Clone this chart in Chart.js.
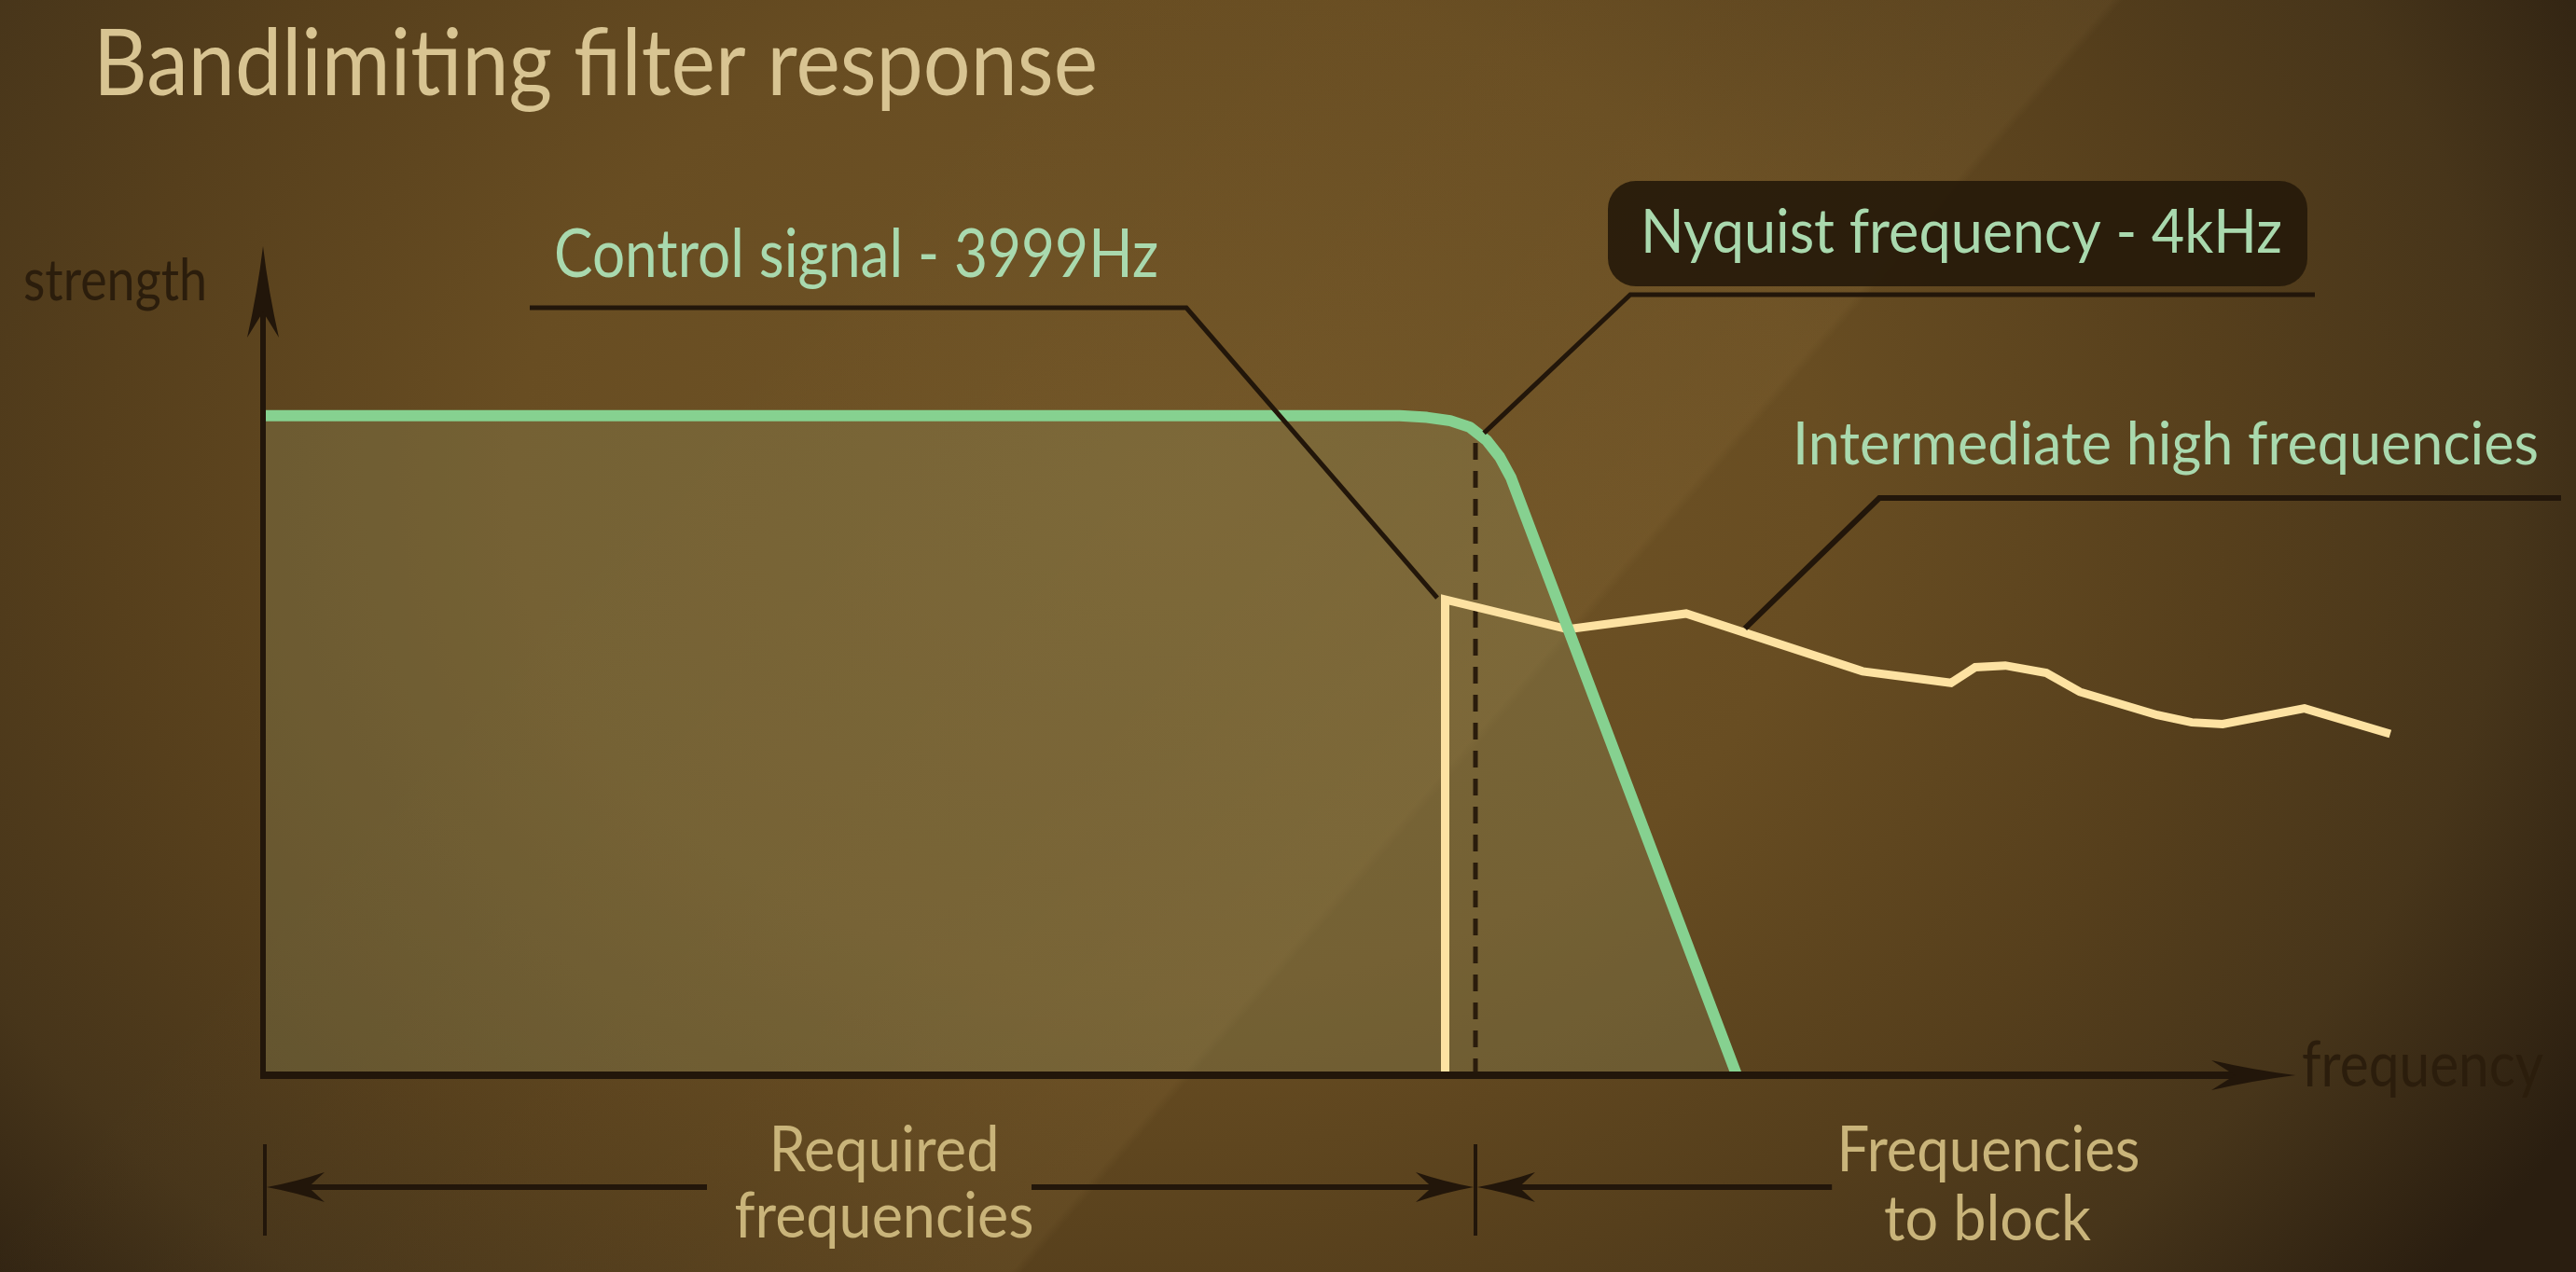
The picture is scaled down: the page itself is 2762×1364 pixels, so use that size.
<!DOCTYPE html>
<html>
<head>
<meta charset="utf-8">
<script src="https://cdn.jsdelivr.net/npm/chart.js@4/dist/chart.umd.min.js"></script>
<style>
  html, body { margin: 0; padding: 0; background: #4a3618; }
  #wrap { width: 2762px; height: 1364px; }
  canvas { display: block; }
</style>
</head>
<body>
<div id="wrap"><canvas id="c" width="2762" height="1364"></canvas></div>
<script>
// ---------------- data ----------------
// Band-limiting filter response (frequency in Hz, strength in arbitrary units 0..100)
const filterFreq     = [0, 3750, 3840, 3917, 3982, 4037, 4080, 4117, 4862];
const filterStrength = [80, 80, 79.8, 79.4, 78.6, 77.0, 75.0, 72.5, 0];

// Control signal (3999 Hz spike) followed by intermediate high frequencies
const signalFreq     = [3900, 3900, 4305, 4695, 5277, 5569, 5649, 5748, 5883, 5994, 6249, 6363, 6465, 6735, 7018];
const signalStrength = [0, 57.7, 54.1, 56.0, 49.0, 47.6, 49.5, 49.7, 48.8, 46.5, 43.7, 42.8, 42.6, 44.5, 41.4];

// Nyquist marker (dashed vertical)
const nyquistFreq     = [4000, 4000];
const nyquistStrength = [0, 77.8];

// Axis ranges
const xRange = [0, 7200];
const yRange = [0, 100];
const xAxisEndHz = 6705;   // where the frequency-axis arrow ends

// Text
const titleText = 'Bandlimiting filter response';
const yAxisLabel = 'strength';
const xAxisLabel = 'frequency';
const controlLabel = 'Control signal - 3999Hz';
const nyquistLabel = 'Nyquist frequency - 4kHz';
const intermediateLabel = 'Intermediate high frequencies';
const requiredLabel = ['Required', 'frequencies'];
const blockLabel = ['Frequencies', 'to block'];

// Leader-line anchors in data units
const controlAnchor = [3874, 57.9];
const nyquistAnchor = [4028, 77.9];
const intermediateAnchor = [4889, 54.2];
const blockEndHz = 5176;

// ---------------- helpers ----------------
const FONT = 'Lato, "Open Sans", sans-serif';
const DARK = '#22160a';
const GREEN_TXT = '#a9d9ae';
const BEIGE = '#d8c492';
const BEIGE2 = '#c9b47a';

function fitText(ctx, txt, x, y, size, width, color, align) {
  ctx.save();
  ctx.font = '400 ' + size + 'px ' + FONT;
  const w = ctx.measureText(txt).width;
  const sx = width / w;
  ctx.fillStyle = color;
  ctx.textBaseline = 'alphabetic';
  ctx.textAlign = 'left';
  ctx.translate(x, y);
  ctx.scale(sx, 1);
  ctx.fillText(txt, align === 'center' ? -w / 2 : 0, 0);
  ctx.restore();
}

function arrowHead(ctx, tx, ty, dx, dy, L, W, color) {
  const px = -dy, py = dx;
  const bx = tx - dx * L, by = ty - dy * L;
  const nx = tx - dx * L * 0.72, ny = ty - dy * L * 0.72;
  ctx.save();
  ctx.fillStyle = color;
  ctx.beginPath();
  ctx.moveTo(tx, ty);
  ctx.quadraticCurveTo(tx - dx * L * 0.5 + px * W * 0.35, ty - dy * L * 0.5 + py * W * 0.35, bx + px * W, by + py * W);
  ctx.lineTo(nx, ny);
  ctx.lineTo(bx - px * W, by - py * W);
  ctx.quadraticCurveTo(tx - dx * L * 0.5 - px * W * 0.35, ty - dy * L * 0.5 - py * W * 0.35, tx, ty);
  ctx.closePath();
  ctx.fill();
  ctx.restore();
}

function line(ctx, pts, width, color) {
  ctx.save();
  ctx.strokeStyle = color;
  ctx.lineWidth = width;
  ctx.lineJoin = 'miter';
  ctx.lineCap = 'butt';
  ctx.beginPath();
  ctx.moveTo(pts[0][0], pts[0][1]);
  for (let i = 1; i < pts.length; i++) ctx.lineTo(pts[i][0], pts[i][1]);
  ctx.stroke();
  ctx.restore();
}

// ---------------- plugins ----------------
const backgroundPlugin = {
  id: 'bg',
  beforeDraw(chart) {
    const ctx = chart.ctx, W = chart.width, H = chart.height;
    ctx.save();
    ctx.fillStyle = '#2a1e10';
    ctx.fillRect(0, 0, W, H);
    ctx.save();
    ctx.translate(1250, 520);
    ctx.scale(1.3, 1);
    const g = ctx.createRadialGradient(0, 0, 0, 0, 0, 1350);
    g.addColorStop(0, '#715527');
    g.addColorStop(0.4, '#684d22');
    g.addColorStop(0.65, '#563f1c');
    g.addColorStop(0.82, '#47351a');
    g.addColorStop(1, '#2a1e10');
    ctx.fillStyle = g;
    ctx.fillRect(-1250 / 1.3 - 10, -530, W / 1.3 + 20, H + 20);
    ctx.restore();
    // soft diagonal light band
    const ox = 2270, oy = 0;
    const n = [0.756, 0.654];
    const A = [ox - n[0] * 900, oy - n[1] * 900];
    const B = [ox + n[0] * 100, oy + n[1] * 100];
    const d = ctx.createLinearGradient(A[0], A[1], B[0], B[1]);
    d.addColorStop(0, 'rgba(255,210,130,0)');
    d.addColorStop(0.6, 'rgba(255,210,130,0.025)');
    d.addColorStop(0.895, 'rgba(255,210,130,0.05)');
    d.addColorStop(0.905, 'rgba(255,210,130,0.0)');
    d.addColorStop(1, 'rgba(255,210,130,0)');
    ctx.fillStyle = d;
    ctx.fillRect(0, 0, W, H);
    ctx.restore();
  }
};

const decorPlugin = {
  id: 'decor',
  afterDraw(chart) {
    const ctx = chart.ctx;
    const xs = chart.scales.x, ys = chart.scales.y;
    const ca = chart.chartArea;
    const X = v => xs.getPixelForValue(v);
    const Y = v => ys.getPixelForValue(v);
    const x0 = X(0), yb = Y(0);

    // ---- axes ----
    const yTip = ca.top - 5;
    line(ctx, [[x0, yb + 4], [x0, yTip + 40]], 6, DARK);
    arrowHead(ctx, x0, yTip, 0, -1, 98, 17, DARK);
    const xTip = X(xAxisEndHz);
    line(ctx, [[x0 - 3, yb], [xTip - 40, yb]], 8, DARK);
    arrowHead(ctx, xTip, yb, 1, 0, 90, 16, DARK);

    fitText(ctx, yAxisLabel, 25, 322, 62, 197, '#2b1d0c', 'left');
    fitText(ctx, xAxisLabel, 2468, 1165, 68, 259, '#2b1d0c', 'left');

    // ---- title ----
    fitText(ctx, titleText, 100, 102, 98, 1077, BEIGE, 'left');

    // ---- Control signal annotation ----
    const ca1 = [X(controlAnchor[0]), Y(controlAnchor[1])];
    line(ctx, [[568, 330], [1272, 330], ca1], 5, DARK);
    fitText(ctx, controlLabel, 594, 297, 72, 648, GREEN_TXT, 'left');

    // ---- Nyquist annotation ----
    ctx.save();
    ctx.fillStyle = 'rgba(38,26,10,0.92)';
    ctx.beginPath();
    ctx.roundRect(1724, 194, 750, 113, 30);
    ctx.fill();
    ctx.restore();
    const na = [X(nyquistAnchor[0]), Y(nyquistAnchor[1])];
    line(ctx, [[2482, 316], [1748, 316], na], 5, DARK);
    fitText(ctx, nyquistLabel, 1759, 271, 66, 688, GREEN_TXT, 'left');

    // ---- Intermediate annotation ----
    const ia = [X(intermediateAnchor[0]), Y(intermediateAnchor[1])];
    line(ctx, [[2746, 534], [2015, 534], ia], 6, DARK);
    fitText(ctx, intermediateLabel, 1922, 498, 63, 800, GREEN_TXT, 'left');

    // ---- bottom dimension arrows ----
    const xn = X(4000);
    const dimY = 1273;
    line(ctx, [[x0 + 2, 1227], [x0 + 2, 1325]], 4, DARK);
    line(ctx, [[xn, 1227], [xn, 1325]], 4, DARK);
    line(ctx, [[x0 + 30, dimY], [758, dimY]], 6, DARK);
    line(ctx, [[1106, dimY], [xn - 30, dimY]], 6, DARK);
    arrowHead(ctx, x0 + 4, dimY, -1, 0, 62, 16, DARK);
    arrowHead(ctx, xn - 2, dimY, 1, 0, 62, 16, DARK);
    line(ctx, [[xn + 30, dimY], [X(blockEndHz), dimY]], 6, DARK);
    arrowHead(ctx, xn + 2, dimY, -1, 0, 62, 16, DARK);

    fitText(ctx, requiredLabel[0], 948, 1256, 68, 247, BEIGE2, 'center');
    fitText(ctx, requiredLabel[1], 948, 1327, 68, 321, BEIGE2, 'center');
    fitText(ctx, blockLabel[0], 2132, 1256, 68, 325, BEIGE2, 'center');
    fitText(ctx, blockLabel[1], 2131, 1330, 68, 222, BEIGE2, 'center');
  }
};

// ---------------- chart ----------------
const toXY = (xa, ya) => xa.map((x, i) => ({ x: x, y: ya[i] }));

const ctxC = document.getElementById('c').getContext('2d');
new Chart(ctxC, {
  type: 'line',
  data: {
    datasets: [
      {
        label: 'Filter response',
        data: toXY(filterFreq, filterStrength),
        borderColor: '#86d190',
        borderWidth: 12,
        borderJoinStyle: 'round',
        fill: 'origin',
        backgroundColor: 'rgba(150,150,100,0.28)',
        pointRadius: 0,
        tension: 0,
        clip: false
      },
      {
        label: 'Signal',
        data: toXY(signalFreq, signalStrength),
        borderColor: '#fde2a2',
        borderWidth: 9,
        borderJoinStyle: 'miter',
        fill: false,
        pointRadius: 0,
        tension: 0,
        clip: false
      },
      {
        label: 'Nyquist',
        data: toXY(nyquistFreq, nyquistStrength),
        borderColor: '#2a1c0c',
        borderWidth: 5,
        borderDash: [18, 12],
        fill: false,
        pointRadius: 0,
        tension: 0,
        clip: false
      }
    ]
  },
  options: {
    responsive: false,
    animation: false,
    devicePixelRatio: 1,
    events: [],
    layout: { padding: { left: 282, right: 140, top: 269, bottom: 211 } },
    scales: {
      x: { type: 'linear', min: xRange[0], max: xRange[1], display: false },
      y: { type: 'linear', min: yRange[0], max: yRange[1], display: false }
    },
    plugins: {
      legend: { display: false },
      tooltip: { enabled: false },
      title: { display: false },
      filler: { drawTime: 'beforeDatasetsDraw' }
    }
  },
  plugins: [backgroundPlugin, decorPlugin]
});
</script>
</body>
</html>
